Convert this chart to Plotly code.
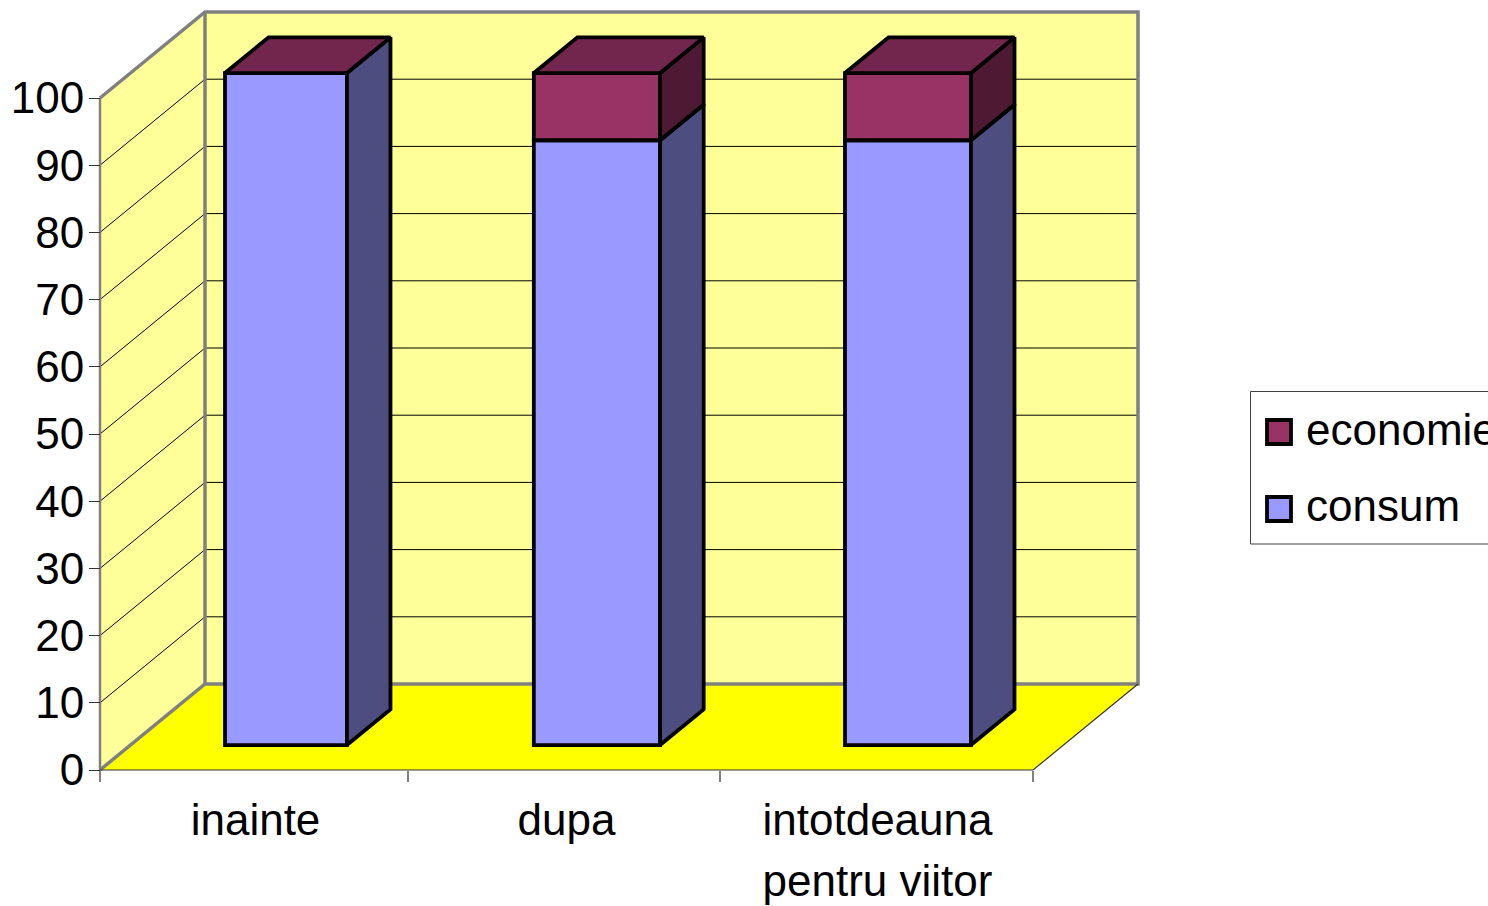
import plotly.graph_objects as go

categories = ["inainte", "dupa", "intotdeauna<br>pentru viitor"]
consum = [100, 90, 90]
economie = [0, 10, 10]
y_ticks = list(range(0, 101, 10))
x_boundaries = [0, 0.99, 1.994, 3]

W, H = 1488, 906
X0, X3 = 100, 1033      # px of category-axis ends
Y0, Y100 = 770, 98      # px of value-axis ends
UX = (X3 - X0) / 3
UY = (Y0 - Y100) / 100
DX = 105 / UX           # wall depth in axis units
DY = 86 / UY
NEAR, FAR = 0.29, 0.705
BAR_WIDTHS = [0.392, 0.406, 0.405]
FONT = "Liberation Sans"
TXT = 44
STROKE = 3.8

C_WALL, C_FLOOR, C_EDGE = "#FFFF99", "#FFFF00", "#808080"
C_BLUE, C_BLUE_SIDE = "#9999FF", "#4D4D80"
C_RED, C_RED_SIDE, C_RED_TOP = "#993366", "#4D1933", "#73264D"


def proj(u, v, d):
    return u + d * DX, v + d * DY


def path(points, close=True):
    s = "M " + " L ".join(f"{x},{y}" for x, y in points)
    return s + (" Z" if close else "")


def poly(points, fill=None, color=None, width=0):
    return dict(type="path", xref="x", yref="y", layer="below", path=path(points, fill is not None),
                fillcolor=fill if fill else "rgba(0,0,0,0)",
                line=dict(color=color if color else "rgba(0,0,0,0)", width=width))


shapes = [
    poly([proj(0, 0, 0), proj(0, 0, 1), proj(0, 100, 1), proj(0, 100, 0)], C_WALL),
    poly([proj(0, 0, 1), proj(3, 0, 1), proj(3, 100, 1), proj(0, 100, 1)], C_WALL),
    poly([proj(0, 0, 0), proj(3, 0, 0), proj(3, 0, 1), proj(0, 0, 1)], C_FLOOR),
]
for v in y_ticks[1:-1]:
    shapes.append(poly([proj(0, v, 0), proj(0, v, 1), proj(3, v, 1)], color="#000000", width=1))
# frame of the walls
shapes += [
    poly([proj(0, 0, 0), proj(0, 0, 1), proj(3, 0, 1), proj(3, 100, 1), proj(0, 100, 1), proj(0, 100, 0)],
         color=C_EDGE, width=3.5),
    poly([proj(0, 0, 1), proj(0, 100, 1)], color=C_EDGE, width=3.5),
    poly([proj(0, 0, 0), proj(0, 100, 0)], color=C_EDGE, width=2.5),
    poly([proj(0, 0, 0), proj(3, 0, 0), proj(3, 0, 1)], color="#333333", width=1.2),
]

fig = go.Figure()
centers = [i + 0.5 for i in range(len(categories))]


def add_face(pts, fill):
    pts = pts + [pts[0]]
    fig.add_trace(go.Scatter(
        x=[p[0] for p in pts], y=[p[1] for p in pts], mode="lines", fill="toself",
        fillcolor=fill, line=dict(color="black", width=STROKE),
        showlegend=False, hoverinfo="skip"))


def add_series(name, values, bases, front, side):
    fig.add_trace(go.Bar(
        name=name, x=[proj(c, 0, NEAR)[0] for c in centers],
        y=values, base=[proj(0, b, NEAR)[1] for b in bases], width=BAR_WIDTHS,
        marker=dict(color=front, line=dict(color="black", width=STROKE)),
        cliponaxis=False, showlegend=False, hoverinfo="skip"))
    for c, w, b, v in zip(centers, BAR_WIDTHS, bases, values):
        if v > 0:
            r = c + w / 2
            add_face([proj(r, b, NEAR), proj(r, b, FAR), proj(r, b + v, FAR), proj(r, b + v, NEAR)], side)


add_series("consum", consum, [0, 0, 0], C_BLUE, C_BLUE_SIDE)
add_series("economie", economie, consum, C_RED, C_RED_SIDE)
for c, w, t in zip(centers, BAR_WIDTHS, [a + b for a, b in zip(consum, economie)]):
    l, r = c - w / 2, c + w / 2
    add_face([proj(l, t, NEAR), proj(r, t, NEAR), proj(r, t, FAR), proj(l, t, FAR)], C_RED_TOP)


def px(x):
    return x / W


def py(y):
    return 1 - y / H


# legend, drawn to the size of the original
shapes.append(dict(type="rect", xref="paper", yref="paper", x0=px(1250.5), x1=px(1500), y0=py(391.5), y1=py(544),
                   fillcolor="white", line=dict(color="#404040", width=1), layer="above"))
annotations = []
for label, color, yc in [("economie", C_RED, 432), ("consum", C_BLUE, 509)]:
    shapes.append(dict(type="rect", xref="paper", yref="paper", x0=px(1267), x1=px(1291), y0=py(yc + 12), y1=py(yc - 12),
                       fillcolor=color, line=dict(color="black", width=STROKE), layer="above"))
    annotations.append(dict(xref="paper", yref="paper", x=px(1304), y=py(yc - 3), text=label, showarrow=False,
                            xanchor="left", yanchor="middle", font=dict(family=FONT, size=TXT, color="black")))

tick_text = ["<br>".join(f'<span style="font-size:{TXT}px">{part}</span>' for part in c.split("<br>"))
             for c in categories]

fig.update_layout(
    width=W, height=H, autosize=False,
    margin=dict(l=0, r=0, t=0, b=0, pad=0, autoexpand=False),
    paper_bgcolor="white", plot_bgcolor="white", barmode="overlay",
    showlegend=False, shapes=shapes, annotations=annotations,
    font=dict(family=FONT, size=TXT, color="black"),
    xaxis=dict(
        domain=[0, 1], range=[-X0 / UX, (W - X0) / UX], anchor="free", position=1 - Y0 / H,
        showgrid=False, zeroline=False, showline=False,
        tickmode="array", tickvals=centers, ticktext=tick_text, ticks="", ticklabelstandoff=17,
        tickfont=dict(family=FONT, size=47, color="black"),
        minor=dict(tickmode="array", tickvals=x_boundaries, ticks="outside", ticklen=11, tickwidth=2,
                   tickcolor=C_EDGE, showgrid=False),
    ),
    yaxis=dict(
        domain=[0, 1], range=[-(H - Y0) / UY, Y0 / UY], anchor="free", position=X0 / W,
        showgrid=False, zeroline=False, showline=False,
        tickmode="array", tickvals=y_ticks, ticks="outside", ticklen=11, tickwidth=1, tickcolor="#333333",
        ticklabelstandoff=-4,
    ),
)

fig.write_html("out.html", config={"displayModeBar": False},
               post_script="document.body.style.margin='0';document.body.style.overflow='hidden';")
